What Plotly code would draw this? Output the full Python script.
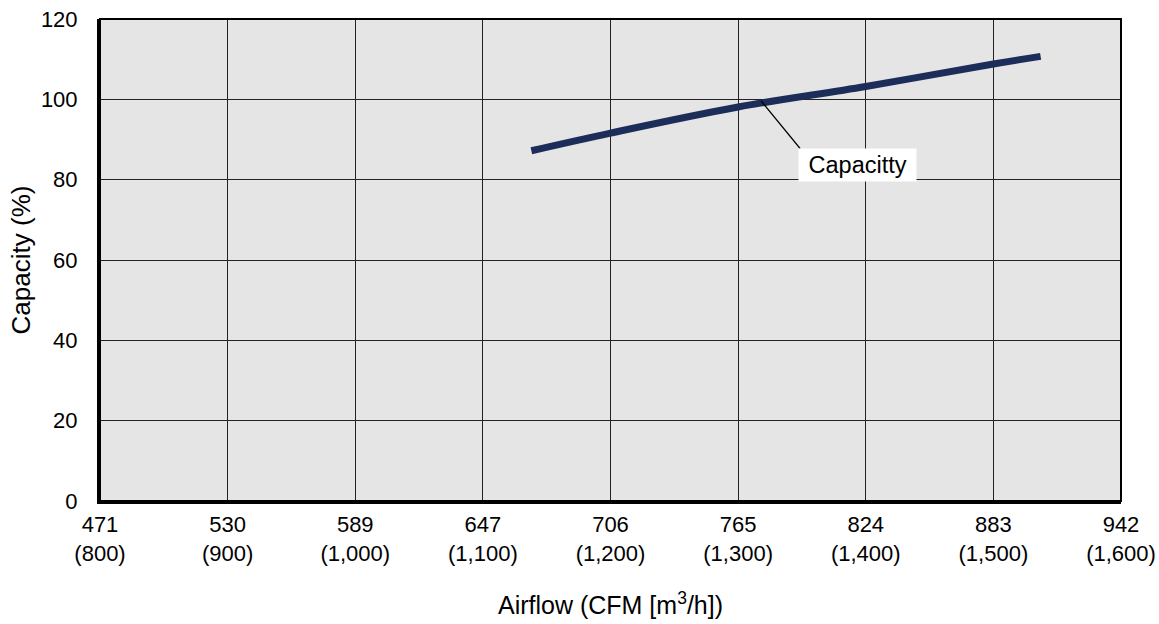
#!/usr/bin/env python3
"""
Capacity vs airflow chart
"""

import plotly.graph_objs as go

# Airflow in m3/h and capacity in %
airflow = [1138, 1200, 1300, 1400, 1500, 1537]
capacity = [87.2, 91.6, 98.1, 103.2, 108.8, 110.7]

tick_m3h = [800, 900, 1000, 1100, 1200, 1300, 1400, 1500, 1600]
tick_cfm = ["471", "530", "589", "647", "706", "765", "824", "883", "942"]
tick_m3h_text = ["(800)", "(900)", "(1,000)", "(1,100)", "(1,200)",
                 "(1,300)", "(1,400)", "(1,500)", "(1,600)"]

label_x = 1318
label_y = 99.6


def main():

    ticktext = [f"{c}<br>{m}" for c, m in zip(tick_cfm, tick_m3h_text)]

    trace = go.Scatter(x=airflow, y=capacity, mode="lines",
                       line=dict(color="#1d2d5a", width=7, shape="spline"),
                       hoverinfo="skip", showlegend=False)

    family = "Liberation Sans, Arial, sans-serif"
    font = dict(family=family, size=22, color="black")

    layout = go.Layout(
        width=1159, height=624,
        margin=dict(l=100, r=38, t=19, b=123),
        paper_bgcolor="white", plot_bgcolor="#e5e5e5",
        font=font,
        xaxis=dict(range=[800, 1600], tickvals=tick_m3h, ticktext=ticktext,
                   showgrid=True, gridcolor="#222222", gridwidth=1,
                   showline=True, linecolor="black", linewidth=3,
                   ticks="", zeroline=False, ticklabelstandoff=2,
                   automargin=False,
                   tickfont=dict(family=family, size=22, color="black"),
                   title=dict(text="Airflow (CFM [m<sup>3</sup>/h])",
                              font=dict(family=family, size=25,
                                        color="black"),
                              standoff=32)),
        yaxis=dict(range=[0, 120], dtick=20,
                   showgrid=True, gridcolor="#222222", gridwidth=1,
                   showline=True, linecolor="black", linewidth=3,
                   ticks="", zeroline=False, ticklabelstandoff=15,
                   automargin=False,
                   tickfont=dict(family=family, size=22, color="black"),
                   title=dict(text="Capacity (%)",
                              font=dict(family=family, size=26,
                                        color="black"),
                              standoff=3)),
        shapes=[dict(type="rect", xref="paper", yref="paper",
                     x0=0, x1=1, y0=0, y1=1,
                     line=dict(color="black", width=2))],
        annotations=[
            dict(x=label_x, y=label_y, text=" ", showarrow=True,
                 arrowhead=0, arrowwidth=1.2, arrowcolor="black",
                 ax=41, ay=50, font=dict(size=2)),
            dict(x=label_x, y=label_y, text=" Capacitty ", showarrow=False,
                 xshift=96, yshift=-64, bgcolor="white", borderpad=3,
                 font=dict(family=family, size=23.5, color="black")),
        ],
    )
    fig = go.Figure(data=[trace], layout=layout)
    fig.write_html("out.html", config=dict(displayModeBar=False),
                   post_script="document.body.style.margin = '0';")


if __name__ == "__main__":

    main()
